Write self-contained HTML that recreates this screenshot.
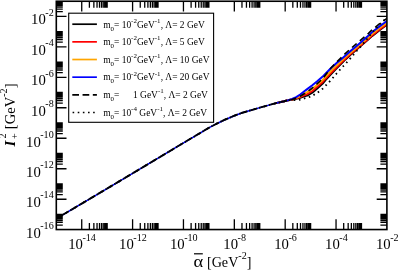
<!DOCTYPE html>
<html><head><meta charset="utf-8"><title>plot</title>
<style>html,body{margin:0;padding:0;background:#fff;}body{width:399px;height:271px;overflow:hidden;}svg{display:block;}text{font-family:"Liberation Serif",serif;fill:#000;}svg{will-change:transform;}</style>
</head><body>
<svg width="399" height="271" viewBox="0 0 399 271">
<rect x="0" y="0" width="399" height="271" fill="#fff"/>
<clipPath id="c"><rect x="56.3" y="1.25" width="330.59999999999997" height="228.3"/></clipPath>
<g clip-path="url(#c)" fill="none" stroke-linejoin="round">
<path d="M275.1,103.4 L284.0,101.3 L288.1,100.2 L292.1,99.7 L296.2,98.7 L300.2,97.8 L304.3,96.4 L307.2,95.6 L312.3,92.7 L317.5,88.3 L322.7,83.5 L325.5,80.2 L331.1,74.0 L336.6,68.2 L342.1,62.7 L345.5,59.4 L351.1,54.3 L356.6,49.5 L362.1,44.8 L368.5,39.3 L372.0,36.1 L376.1,32.9 L380.2,29.7 L384.2,26.8 L386.9,24.8 L389.0,23.3" stroke="#000" stroke-width="2.0"/>
<path d="M275.1,103.4 L284.0,101.3 L288.1,100.2 L292.1,99.5 L296.2,98.3 L300.2,97.0 L304.3,95.2 L307.2,94.1 L312.3,91.0 L317.5,86.6 L322.7,81.9 L325.5,78.7 L331.1,72.7 L336.6,67.2 L342.1,61.9 L345.5,58.7 L351.1,53.6 L356.6,48.9 L362.1,44.2 L368.5,38.7 L372.0,35.4 L376.1,32.2 L380.2,29.0 L384.2,26.1 L386.9,24.2 L389.0,22.6" stroke="#ff0000" stroke-width="2.0"/>
<path d="M275.1,103.4 L284.0,101.3 L288.1,100.2 L292.1,99.3 L296.2,97.9 L300.2,96.1 L304.3,93.7 L307.2,92.2 L312.3,88.8 L317.5,84.5 L322.7,79.9 L325.5,76.8 L331.1,70.8 L336.6,65.4 L342.1,60.3 L345.5,57.1 L351.1,52.2 L356.6,47.4 L362.1,42.7 L368.5,37.2 L372.0,33.9 L376.1,30.6 L380.2,27.5 L384.2,24.6 L386.9,22.7 L389.0,21.2" stroke="#ffa500" stroke-width="2.0"/>
<path d="M54.0,220.1 L61.5,215.6 L115.1,183.8 L176.0,147.4 L200.0,133.1 L208.3,128.1 L216.6,123.7 L224.9,119.7 L233.2,116.2 L241.5,113.0 L250.0,110.5 L262.5,106.9 L275.1,103.4" stroke="#0000ff" stroke-width="1.5"/>
<path d="M275.1,103.4 L284.0,101.3 L288.1,100.2 L292.1,99.0 L296.2,97.1 L300.2,94.5 L304.3,91.3 L307.2,89.1 L312.3,85.2 L317.5,81.0 L322.7,76.6 L325.5,73.7 L331.1,68.0 L336.6,63.1 L342.1,58.5 L345.5,55.5 L351.1,50.6 L356.6,45.9 L362.1,41.2 L368.5,35.6 L372.0,32.3 L376.1,29.0 L380.2,25.9 L384.2,23.0 L386.9,21.1 L389.0,19.6" stroke="#0000ff" stroke-width="2.0"/>
<path d="M54.0,220.1 L61.5,215.6 L115.1,183.8 L176.0,147.4 L200.0,133.1 L208.3,128.1 L216.6,123.7 L224.9,119.7 L233.2,116.2 L241.5,113.0 L250.0,110.5 L262.5,106.9 L275.1,103.4 L284.0,101.3 L288.1,100.2" stroke="#000" stroke-width="1.85" stroke-dasharray="6.9 3.36" stroke-dashoffset="0.00"/>
<path d="M288.1,100.2 L292.1,99.5 L296.2,98.1 L300.2,96.3 L304.3,93.8 L307.2,91.9 L312.3,88.0 L317.5,83.4 L322.7,78.7 L325.5,75.0 L331.1,67.8 L336.6,62.1 L342.1,56.7 L345.5,53.3 L351.1,48.3 L356.6,43.6 L362.1,38.9 L368.5,33.3 L372.0,29.9 L376.1,26.6 L380.2,23.3 L384.2,20.3 L386.9,18.3 L389.0,16.7" stroke="#000" stroke-width="1.6" stroke-dasharray="6.1 4.16" stroke-dashoffset="7.99"/>
<path d="M54.0,220.1 L61.5,215.6 L115.1,183.8 L176.0,147.4 L200.0,133.1 L208.3,128.1 L216.6,123.7 L224.9,119.7 L233.2,116.2 L241.5,113.0 L250.0,110.5 L262.5,106.9 L275.1,103.4 L284.0,101.3 L288.1,100.2 L292.1,100.0 L296.2,100.2 L300.2,99.6 L304.3,98.4 L307.2,97.9 L312.3,95.8 L317.5,92.6 L322.7,88.7 L325.5,85.8 L331.1,79.9 L336.6,73.5 L342.1,67.4 L345.5,63.8 L351.1,57.6 L356.6,51.0 L362.1,44.9 L368.5,37.3 L372.0,32.7 L376.1,28.2 L380.2,23.9 L384.2,20.1 L386.9,17.7 L389.0,15.8" stroke="#000" stroke-width="1.85" stroke-dasharray="1.6 3.53" stroke-dashoffset="1.70"/>
</g>
<path d="M56.30,225.14L62.80,225.14M386.90,225.14L380.40,225.14M56.30,222.46L62.80,222.46M386.90,222.46L380.40,222.46M56.30,220.55L62.80,220.55M386.90,220.55L380.40,220.55M56.30,219.07L62.80,219.07M386.90,219.07L380.40,219.07M56.30,217.87L62.80,217.87M386.90,217.87L380.40,217.87M56.30,216.85L62.80,216.85M386.90,216.85L380.40,216.85M56.30,215.96L62.80,215.96M386.90,215.96L380.40,215.96M56.30,215.18L62.80,215.18M386.90,215.18L380.40,215.18M56.30,214.49L62.80,214.49M386.90,214.49L380.40,214.49M56.30,199.24L66.50,199.24M386.90,199.24L376.70,199.24M56.30,194.65L62.80,194.65M386.90,194.65L380.40,194.65M56.30,191.97L62.80,191.97M386.90,191.97L380.40,191.97M56.30,190.06L62.80,190.06M386.90,190.06L380.40,190.06M56.30,188.58L62.80,188.58M386.90,188.58L380.40,188.58M56.30,187.38L62.80,187.38M386.90,187.38L380.40,187.38M56.30,186.36L62.80,186.36M386.90,186.36L380.40,186.36M56.30,185.47L62.80,185.47M386.90,185.47L380.40,185.47M56.30,184.69L62.80,184.69M386.90,184.69L380.40,184.69M56.30,184.00L62.80,184.00M386.90,184.00L380.40,184.00M56.30,168.75L66.50,168.75M386.90,168.75L376.70,168.75M56.30,164.16L62.80,164.16M386.90,164.16L380.40,164.16M56.30,161.48L62.80,161.48M386.90,161.48L380.40,161.48M56.30,159.57L62.80,159.57M386.90,159.57L380.40,159.57M56.30,158.09L62.80,158.09M386.90,158.09L380.40,158.09M56.30,156.89L62.80,156.89M386.90,156.89L380.40,156.89M56.30,155.87L62.80,155.87M386.90,155.87L380.40,155.87M56.30,154.98L62.80,154.98M386.90,154.98L380.40,154.98M56.30,154.20L62.80,154.20M386.90,154.20L380.40,154.20M56.30,153.50L62.80,153.50M386.90,153.50L380.40,153.50M56.30,138.26L66.50,138.26M386.90,138.26L376.70,138.26M56.30,133.67L62.80,133.67M386.90,133.67L380.40,133.67M56.30,130.99L62.80,130.99M386.90,130.99L380.40,130.99M56.30,129.08L62.80,129.08M386.90,129.08L380.40,129.08M56.30,127.60L62.80,127.60M386.90,127.60L380.40,127.60M56.30,126.40L62.80,126.40M386.90,126.40L380.40,126.40M56.30,125.38L62.80,125.38M386.90,125.38L380.40,125.38M56.30,124.49L62.80,124.49M386.90,124.49L380.40,124.49M56.30,123.71L62.80,123.71M386.90,123.71L380.40,123.71M56.30,123.01L62.80,123.01M386.90,123.01L380.40,123.01M56.30,107.77L66.50,107.77M386.90,107.77L376.70,107.77M56.30,103.18L62.80,103.18M386.90,103.18L380.40,103.18M56.30,100.50L62.80,100.50M386.90,100.50L380.40,100.50M56.30,98.59L62.80,98.59M386.90,98.59L380.40,98.59M56.30,97.11L62.80,97.11M386.90,97.11L380.40,97.11M56.30,95.91L62.80,95.91M386.90,95.91L380.40,95.91M56.30,94.89L62.80,94.89M386.90,94.89L380.40,94.89M56.30,94.00L62.80,94.00M386.90,94.00L380.40,94.00M56.30,93.22L62.80,93.22M386.90,93.22L380.40,93.22M56.30,92.52L62.80,92.52M386.90,92.52L380.40,92.52M56.30,77.28L66.50,77.28M386.90,77.28L376.70,77.28M56.30,72.69L62.80,72.69M386.90,72.69L380.40,72.69M56.30,70.01L62.80,70.01M386.90,70.01L380.40,70.01M56.30,68.10L62.80,68.10M386.90,68.10L380.40,68.10M56.30,66.62L62.80,66.62M386.90,66.62L380.40,66.62M56.30,65.42L62.80,65.42M386.90,65.42L380.40,65.42M56.30,64.40L62.80,64.40M386.90,64.40L380.40,64.40M56.30,63.51L62.80,63.51M386.90,63.51L380.40,63.51M56.30,62.73L62.80,62.73M386.90,62.73L380.40,62.73M56.30,62.03L62.80,62.03M386.90,62.03L380.40,62.03M56.30,46.79L66.50,46.79M386.90,46.79L376.70,46.79M56.30,42.20L62.80,42.20M386.90,42.20L380.40,42.20M56.30,39.52L62.80,39.52M386.90,39.52L380.40,39.52M56.30,37.61L62.80,37.61M386.90,37.61L380.40,37.61M56.30,36.13L62.80,36.13M386.90,36.13L380.40,36.13M56.30,34.93L62.80,34.93M386.90,34.93L380.40,34.93M56.30,33.91L62.80,33.91M386.90,33.91L380.40,33.91M56.30,33.02L62.80,33.02M386.90,33.02L380.40,33.02M56.30,32.24L62.80,32.24M386.90,32.24L380.40,32.24M56.30,31.55L62.80,31.55M386.90,31.55L380.40,31.55M56.30,16.30L66.50,16.30M386.90,16.30L376.70,16.30M56.30,11.71L62.80,11.71M386.90,11.71L380.40,11.71M56.30,9.03L62.80,9.03M386.90,9.03L380.40,9.03M56.30,7.12L62.80,7.12M386.90,7.12L380.40,7.12M56.30,5.64L62.80,5.64M386.90,5.64L380.40,5.64M56.30,4.44L62.80,4.44M386.90,4.44L380.40,4.44M56.30,3.42L62.80,3.42M386.90,3.42L380.40,3.42M56.30,2.53L62.80,2.53M386.90,2.53L380.40,2.53M56.30,1.75L62.80,1.75M386.90,1.75L380.40,1.75M81.73,229.55L81.73,219.35M81.73,1.25L81.73,11.45M89.39,229.55L89.39,223.05M89.39,1.25L89.39,7.75M93.86,229.55L93.86,223.05M93.86,1.25L93.86,7.75M97.04,229.55L97.04,223.05M97.04,1.25L97.04,7.75M99.51,229.55L99.51,223.05M99.51,1.25L99.51,7.75M101.52,229.55L101.52,223.05M101.52,1.25L101.52,7.75M103.22,229.55L103.22,223.05M103.22,1.25L103.22,7.75M104.70,229.55L104.70,223.05M104.70,1.25L104.70,7.75M106.00,229.55L106.00,223.05M106.00,1.25L106.00,7.75M107.16,229.55L107.16,223.05M107.16,1.25L107.16,7.75M132.59,229.55L132.59,219.35M132.59,1.25L132.59,11.45M140.25,229.55L140.25,223.05M140.25,1.25L140.25,7.75M144.73,229.55L144.73,223.05M144.73,1.25L144.73,7.75M147.90,229.55L147.90,223.05M147.90,1.25L147.90,7.75M150.37,229.55L150.37,223.05M150.37,1.25L150.37,7.75M152.38,229.55L152.38,223.05M152.38,1.25L152.38,7.75M154.08,229.55L154.08,223.05M154.08,1.25L154.08,7.75M155.56,229.55L155.56,223.05M155.56,1.25L155.56,7.75M156.86,229.55L156.86,223.05M156.86,1.25L156.86,7.75M158.02,229.55L158.02,223.05M158.02,1.25L158.02,7.75M183.45,229.55L183.45,219.35M183.45,1.25L183.45,11.45M191.11,229.55L191.11,223.05M191.11,1.25L191.11,7.75M195.59,229.55L195.59,223.05M195.59,1.25L195.59,7.75M198.76,229.55L198.76,223.05M198.76,1.25L198.76,7.75M201.23,229.55L201.23,223.05M201.23,1.25L201.23,7.75M203.24,229.55L203.24,223.05M203.24,1.25L203.24,7.75M204.95,229.55L204.95,223.05M204.95,1.25L204.95,7.75M206.42,229.55L206.42,223.05M206.42,1.25L206.42,7.75M207.72,229.55L207.72,223.05M207.72,1.25L207.72,7.75M208.88,229.55L208.88,223.05M208.88,1.25L208.88,7.75M234.32,229.55L234.32,219.35M234.32,1.25L234.32,11.45M241.97,229.55L241.97,223.05M241.97,1.25L241.97,7.75M246.45,229.55L246.45,223.05M246.45,1.25L246.45,7.75M249.63,229.55L249.63,223.05M249.63,1.25L249.63,7.75M252.09,229.55L252.09,223.05M252.09,1.25L252.09,7.75M254.10,229.55L254.10,223.05M254.10,1.25L254.10,7.75M255.81,229.55L255.81,223.05M255.81,1.25L255.81,7.75M257.28,229.55L257.28,223.05M257.28,1.25L257.28,7.75M258.58,229.55L258.58,223.05M258.58,1.25L258.58,7.75M259.75,229.55L259.75,223.05M259.75,1.25L259.75,7.75M285.18,229.55L285.18,219.35M285.18,1.25L285.18,11.45M292.83,229.55L292.83,223.05M292.83,1.25L292.83,7.75M297.31,229.55L297.31,223.05M297.31,1.25L297.31,7.75M300.49,229.55L300.49,223.05M300.49,1.25L300.49,7.75M302.95,229.55L302.95,223.05M302.95,1.25L302.95,7.75M304.97,229.55L304.97,223.05M304.97,1.25L304.97,7.75M306.67,229.55L306.67,223.05M306.67,1.25L306.67,7.75M308.14,229.55L308.14,223.05M308.14,1.25L308.14,7.75M309.44,229.55L309.44,223.05M309.44,1.25L309.44,7.75M310.61,229.55L310.61,223.05M310.61,1.25L310.61,7.75M336.04,229.55L336.04,219.35M336.04,1.25L336.04,11.45M343.69,229.55L343.69,223.05M343.69,1.25L343.69,7.75M348.17,229.55L348.17,223.05M348.17,1.25L348.17,7.75M351.35,229.55L351.35,223.05M351.35,1.25L351.35,7.75M353.81,229.55L353.81,223.05M353.81,1.25L353.81,7.75M355.83,229.55L355.83,223.05M355.83,1.25L355.83,7.75M357.53,229.55L357.53,223.05M357.53,1.25L357.53,7.75M359.00,229.55L359.00,223.05M359.00,1.25L359.00,7.75M360.31,229.55L360.31,223.05M360.31,1.25L360.31,7.75M361.47,229.55L361.47,223.05M361.47,1.25L361.47,7.75" stroke="#000" stroke-width="1.3" fill="none"/>
<rect x="56.3" y="1.25" width="330.59999999999997" height="228.3" fill="none" stroke="#000" stroke-width="1.6"/>
<rect x="68.7" y="13.2" width="144.89999999999998" height="109.1" fill="#fff" stroke="#000" stroke-width="1.1"/>
<path d="M72.3,24.20 L96.9,24.20" stroke="#000" stroke-width="1.7" fill="none"/>
<text x="103.2" y="27.50" font-size="9.45" xml:space="preserve">m<tspan dy="3.0" font-size="6.9">0</tspan><tspan dy="-3.0">= 10</tspan><tspan dy="-4.9" font-size="7.0">-2</tspan><tspan dy="4.9">GeV</tspan><tspan dy="-4.9" font-size="7.0">-1</tspan><tspan dy="4.9">, Λ= 2 GeV</tspan></text>
<path d="M72.3,41.86 L96.9,41.86" stroke="#ff0000" stroke-width="1.7" fill="none"/>
<text x="103.2" y="45.16" font-size="9.45" xml:space="preserve">m<tspan dy="3.0" font-size="6.9">0</tspan><tspan dy="-3.0">= 10</tspan><tspan dy="-4.9" font-size="7.0">-2</tspan><tspan dy="4.9">GeV</tspan><tspan dy="-4.9" font-size="7.0">-1</tspan><tspan dy="4.9">, Λ= 5 GeV</tspan></text>
<path d="M72.3,59.52 L96.9,59.52" stroke="#ffa500" stroke-width="1.7" fill="none"/>
<text x="103.2" y="62.82" font-size="9.45" xml:space="preserve">m<tspan dy="3.0" font-size="6.9">0</tspan><tspan dy="-3.0">= 10</tspan><tspan dy="-4.9" font-size="7.0">-2</tspan><tspan dy="4.9">GeV</tspan><tspan dy="-4.9" font-size="7.0">-1</tspan><tspan dy="4.9">, Λ= 10 GeV</tspan></text>
<path d="M72.3,77.18 L96.9,77.18" stroke="#0000ff" stroke-width="1.7" fill="none"/>
<text x="103.2" y="80.48" font-size="9.45" xml:space="preserve">m<tspan dy="3.0" font-size="6.9">0</tspan><tspan dy="-3.0">= 10</tspan><tspan dy="-4.9" font-size="7.0">-2</tspan><tspan dy="4.9">GeV</tspan><tspan dy="-4.9" font-size="7.0">-1</tspan><tspan dy="4.9">, Λ= 20 GeV</tspan></text>
<path d="M72.3,94.84 L96.9,94.84" stroke="#000" stroke-width="1.7" fill="none" stroke-dasharray="6.7 3.56" stroke-dashoffset="0"/>
<text x="103.2" y="98.14" font-size="9.45" xml:space="preserve">m<tspan dy="3.0" font-size="6.9">0</tspan><tspan dy="-3.0">=      1</tspan><tspan> GeV</tspan><tspan dy="-4.9" font-size="7.0">-1</tspan><tspan dy="4.9">, Λ= 2 GeV</tspan></text>
<path d="M72.3,112.50 L96.9,112.50" stroke="#000" stroke-width="1.7" fill="none" stroke-dasharray="1.6 3.53" stroke-dashoffset="-0.3"/>
<text x="103.2" y="115.80" font-size="9.45" xml:space="preserve">m<tspan dy="3.0" font-size="6.9">0</tspan><tspan dy="-3.0">= 10</tspan><tspan dy="-4.9" font-size="7.0">-4</tspan><tspan dy="4.9"> GeV</tspan><tspan dy="-4.9" font-size="7.0">-1</tspan><tspan dy="4.9">, Λ= 2 GeV</tspan></text>
<text x="26.04" y="237.78" font-size="14.7">10<tspan dx="-0.5" dy="-8.8" font-size="10.1">-16</tspan></text>
<text x="26.04" y="207.19" font-size="14.7">10<tspan dx="-0.5" dy="-8.8" font-size="10.1">-14</tspan></text>
<text x="26.04" y="176.75" font-size="14.7">10<tspan dx="-0.5" dy="-8.8" font-size="10.1">-12</tspan></text>
<text x="26.04" y="146.96" font-size="14.7">10<tspan dx="-0.5" dy="-8.8" font-size="10.1">-10</tspan></text>
<text x="31.09" y="116.27" font-size="14.7">10<tspan dx="-0.5" dy="-8.8" font-size="10.1">-8</tspan></text>
<text x="31.09" y="85.38" font-size="14.7">10<tspan dx="-0.5" dy="-8.8" font-size="10.1">-6</tspan></text>
<text x="31.09" y="55.19" font-size="14.7">10<tspan dx="-0.5" dy="-8.8" font-size="10.1">-4</tspan></text>
<text x="31.09" y="24.40" font-size="14.7">10<tspan dx="-0.5" dy="-8.8" font-size="10.1">-2</tspan></text>
<text x="68.25"  y="248.9" font-size="14.7">10<tspan dx="-0.5" dy="-8.4" font-size="10.1">-14</tspan></text>
<text x="119.11"  y="248.9" font-size="14.7">10<tspan dx="-0.5" dy="-8.4" font-size="10.1">-12</tspan></text>
<text x="169.97"  y="248.9" font-size="14.7">10<tspan dx="-0.5" dy="-8.4" font-size="10.1">-10</tspan></text>
<text x="223.36"  y="248.9" font-size="14.7">10<tspan dx="-0.5" dy="-8.4" font-size="10.1">-8</tspan></text>
<text x="274.22"  y="248.9" font-size="14.7">10<tspan dx="-0.5" dy="-8.4" font-size="10.1">-6</tspan></text>
<text x="325.08"  y="248.9" font-size="14.7">10<tspan dx="-0.5" dy="-8.4" font-size="10.1">-4</tspan></text>
<text x="375.94"  y="248.9" font-size="14.7">10<tspan dx="-0.5" dy="-8.4" font-size="10.1">-2</tspan></text>
<text transform="translate(193.4,267.3) scale(1.32,1.16)" x="0" y="0" font-size="14">α</text>
<text x="207.0" y="267.3" font-size="14.1" xml:space="preserve">[GeV<tspan dy="-8.2" font-size="10.1">-2</tspan><tspan dy="8.2">]</tspan></text>
<path d="M194,253.8 L202.8,253.8" stroke="#000" stroke-width="1.2"/>
<g transform="translate(14.7,146.6) rotate(-90)">
<text x="0" y="0" font-size="15" font-weight="bold" font-style="italic">I</text>
<text x="8.2" y="-8.8" font-size="10.1">2</text>
<text x="7.6" y="3.2" font-size="10.1">+</text>
<text x="17.4" y="0" font-size="14.6" xml:space="preserve">[GeV<tspan dy="-8.2" font-size="10.1">-2</tspan><tspan dy="8.2">]</tspan></text>
</g>
</svg></body></html>
